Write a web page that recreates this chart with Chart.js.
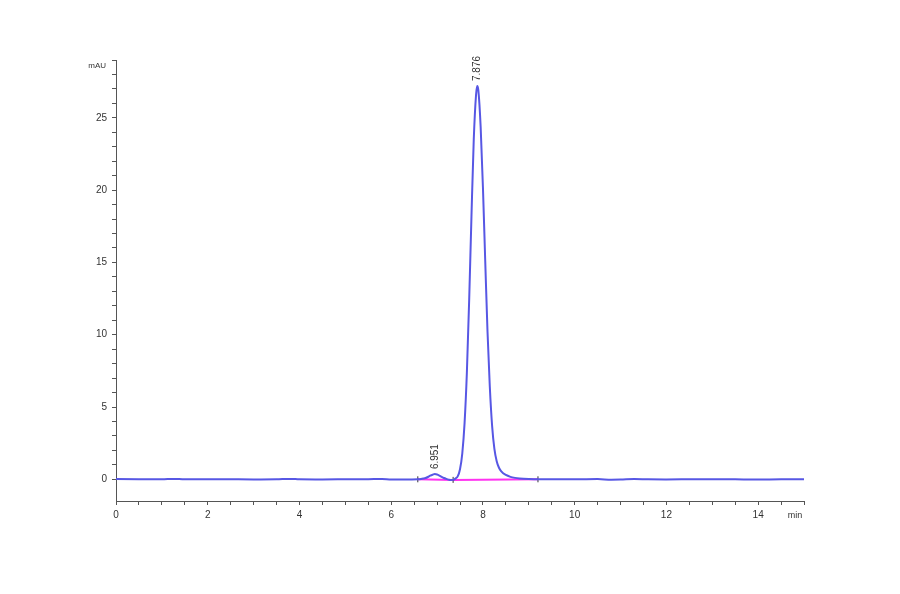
<!DOCTYPE html>
<html>
<head>
<meta charset="utf-8">
<title>Chromatogram</title>
<script src="https://cdn.jsdelivr.net/npm/chart.js@4.4.1/dist/chart.umd.min.js"></script>
<style>
  body { margin: 0; background: #fff; }
  canvas { display: block; }
</style>
</head>
<body>
<canvas id="hplc-chart" width="900" height="594"></canvas>
<script>
// retention time (min) and detector signal (mAU)
var retTime = [0, 0.5, 1.0, 1.25, 1.5, 2.0, 2.5, 3.0, 3.5, 3.8, 4.0, 4.5, 5.0, 5.5, 5.8, 6.0, 6.3,
  6.58, 6.65, 6.70, 6.75, 6.80, 6.85, 6.90, 6.951, 7.00, 7.05, 7.10, 7.15, 7.20, 7.25, 7.30, 7.35,
  7.40, 7.45, 7.50, 7.55, 7.60, 7.65, 7.70, 7.75, 7.80, 7.85, 7.876, 7.90, 7.95, 8.00, 8.05, 8.10,
  8.15, 8.20, 8.25, 8.30, 8.35, 8.40, 8.50, 8.60, 8.70, 8.80, 9.00, 9.20, 9.50, 10.0, 10.5, 10.8,
  11.0, 11.3, 11.6, 12.0, 12.5, 13.0, 13.5, 14.0, 14.5, 15.0];
var signal = [0.02, 0.01, 0.0, 0.03, 0.0, 0.01, 0.0, -0.01, 0.0, 0.03, 0.0, -0.01, 0.0, 0.01, 0.03, -0.02, -0.02,
  0.0, 0.02, 0.05, 0.09, 0.16, 0.25, 0.32, 0.36, 0.33, 0.26, 0.17, 0.09, 0.03, -0.02, -0.05, -0.04,
  0.05, 0.2, 0.7, 1.8, 3.9, 7.4, 12.4, 18.2, 23.5, 26.6, 27.2, 26.9, 24.4, 20.2, 15.1, 10.2,
  6.4, 3.7, 2.1, 1.25, 0.8, 0.55, 0.30, 0.17, 0.10, 0.06, 0.02, 0.0, 0.01, 0.0, 0.02, -0.03,
  -0.02, 0.02, 0.0, -0.01, 0.0, 0.01, 0.0, -0.01, 0.0, 0.0];

// integration baseline and peak marks
var baseTimes = [6.58, 7.35, 9.20];
var baseValues = [0, -0.04, 0];
var peakTimes = [6.951, 7.876];
var peakLabels = ['6.951', '7.876'];

var traceData = retTime.map(function(t, i) { return {x: t, y: signal[i]}; });
var baseData = baseTimes.map(function(t, i) { return {x: t, y: baseValues[i]}; });

var labelFont = '10px "Liberation Sans", Arial, sans-serif';

// peak labels, unit labels
var peakText = {
  id: 'peakText',
  afterDatasetsDraw: function(chart) {
    var ctx = chart.ctx, xs = chart.scales.x, ys = chart.scales.y;
    ctx.save();
    ctx.fillStyle = '#333';
    ctx.font = labelFont;
    peakTimes.forEach(function(t, i) {
      var h = signal[retTime.indexOf(t)];
      var px = xs.getPixelForValue(t), py = ys.getPixelForValue(h) - 5;
      ctx.save();
      ctx.translate(px, py);
      ctx.rotate(-Math.PI / 2);
      ctx.textAlign = 'left';
      ctx.textBaseline = 'middle';
      ctx.fillText(peakLabels[i], 0, 0);
      ctx.restore();
    });
    ctx.font = '8px "Liberation Sans", Arial, sans-serif';
    ctx.textAlign = 'right';
    ctx.textBaseline = 'middle';
    ctx.fillText('mAU', chart.chartArea.left - 10, chart.chartArea.top + 6);
    ctx.font = '9px "Liberation Sans", Arial, sans-serif';
    ctx.textAlign = 'center';
    ctx.textBaseline = 'top';
    ctx.fillText('min', chart.chartArea.right - 9, chart.chartArea.bottom + 10);
    ctx.restore();
  }
};

new Chart(document.getElementById('hplc-chart'), {
  type: 'line',
  data: {
    datasets: [
      {
        data: traceData,
        borderColor: '#5757e4',
        borderWidth: 2,
        pointRadius: 0,
        cubicInterpolationMode: 'monotone',
        order: 1
      },
      {
        data: baseData,
        borderColor: '#ff33f0',
        borderWidth: 2,
        pointStyle: 'line',
        rotation: 90,
        pointRadius: 3,
        pointBorderColor: '#333',
        pointBorderWidth: 1,
        order: 2
      }
    ]
  },
  options: {
    responsive: false,
    animation: false,
    layout: { padding: { left: 0, right: 96, top: 60, bottom: 0 } },
    plugins: { legend: { display: false }, tooltip: { enabled: false } },
    scales: {
      x: {
        type: 'linear',
        min: 0,
        max: 15,
        afterFit: function(scale) { scale.height = 93; },
        border: { display: true, color: '#555', width: 1 },
        grid: { drawOnChartArea: false, drawTicks: true, tickLength: 4, color: '#555' },
        ticks: {
          stepSize: 0.5,
          autoSkip: false,
          maxRotation: 0,
          padding: 4,
          color: '#333',
          font: { family: '"Liberation Sans", Arial, sans-serif', size: 10 },
          callback: function(v) { return v % 2 === 0 ? v : ''; }
        }
      },
      y: {
        min: -1.5,
        max: 29,
        afterFit: function(scale) { scale.width = 116; },
        border: { display: true, color: '#555', width: 1 },
        grid: {
          drawOnChartArea: false,
          drawTicks: true,
          tickLength: 4,
          color: function(c) { return Number.isInteger(c.tick.value) ? '#555' : 'rgba(0,0,0,0)'; }
        },
        ticks: {
          stepSize: 1,
          autoSkip: false,
          padding: 5,
          color: '#333',
          font: { family: '"Liberation Sans", Arial, sans-serif', size: 10 },
          callback: function(v) { return v % 5 === 0 ? v : ''; }
        }
      }
    }
  },
  plugins: [peakText]
});
</script>
</body>
</html>
